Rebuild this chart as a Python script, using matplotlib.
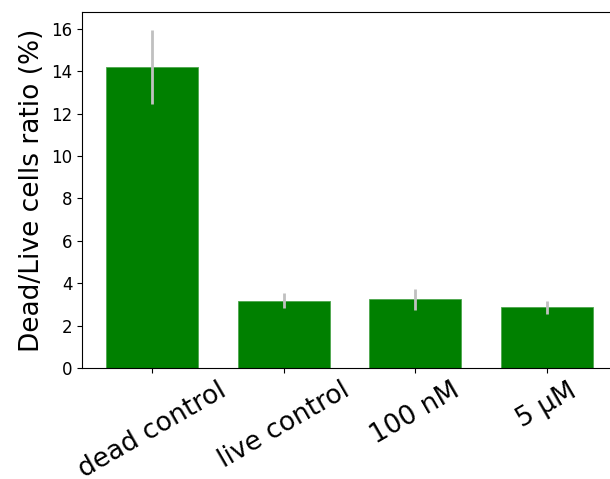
import matplotlib
matplotlib.use('Agg')
import matplotlib.pyplot as plt
import numpy as np

categories = ['dead control', 'live control', '100 nM', '5 µM']
ratios = [14.2, 3.18, 3.24, 2.86]
errors = [1.75, 0.34, 0.48, 0.29]

fig = plt.figure(figsize=(6.10, 4.79), dpi=100)
ax = fig.add_axes([82 / 610, 1 - 368 / 479, 535 / 610, 356 / 479])

x = np.arange(len(categories))
ax.bar(x, ratios, width=0.7, color='green', edgecolor='#4da64d', linewidth=0.6,
       yerr=errors, error_kw=dict(ecolor='#c0c0c0', elinewidth=2))

ax.set_xlim(-0.535, 3.535)
ax.set_ylim(0, 16.8)
ax.set_xticks(x)
ax.set_xticklabels(categories, rotation=30, fontsize=19)
ax.tick_params(axis='y', labelsize=12)
ax.set_ylabel('Dead/Live cells ratio (%)', fontsize=19)

fig.savefig('out.png', dpi=100)
